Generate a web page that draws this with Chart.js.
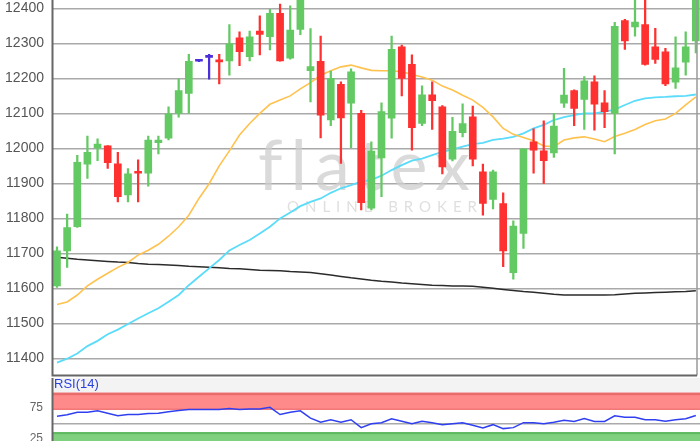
<!DOCTYPE html>
<html>
<head>
<meta charset="utf-8">
<script src="https://cdn.jsdelivr.net/npm/chart.js@4.4.0/dist/chart.umd.min.js"></script>
<style>
  html, body { margin: 0; padding: 0; background: #fff; overflow: hidden; }
  .box { position: absolute; left: 0; width: 700px; }
</style>
</head>
<body>
<div class="box" style="top:0;height:378px"><canvas id="main"></canvas></div>
<div class="box" style="top:378px;height:78px"><canvas id="rsi"></canvas></div>
<script>
// daily candles, oldest first
const opens  = [11607,11707,11776,11955,12001,12007,11956,11867,11934,11929,12016,12029,12100,12157,12249,12260,
                12252,12250,12316,12262,12335,12319,12386,12258,12340,12222,12249,12081,12183,12129,12100,11829,
                11973,12086,12290,12240,12071,12153,12119,11969,12045,12090,11933,11854,11842,11645,11757,12019,
                11993,11987,12129,12165,12140,12190,12130,12100,12365,12347,12354,12290,12276,12189,12246,12307];
const highs  = [11719,11812,11980,12035,12027,12008,11989,11942,11967,12035,12035,12119,12198,12269,12250,12269,
                12269,12354,12333,12335,12379,12397,12412,12407,12460,12342,12321,12221,12190,12227,12109,12019,
                12130,12321,12295,12267,12179,12190,12122,12089,12127,12121,11955,11938,11873,11793,12000,12056,
                12079,12100,12229,12167,12205,12207,12165,12360,12369,12440,12430,12343,12286,12319,12333,12460];
const lows   = [11603,11660,11774,11914,11965,11943,11847,11847,11847,11892,11984,12024,12089,12100,12248,12198,
                12184,12209,12236,12250,12267,12281,12249,12255,12325,12133,12030,12065,11957,12002,11824,11824,
                11862,12029,12150,11995,12065,12054,11927,11964,12033,11950,11809,11827,11662,11626,11714,11929,
                11900,11974,12117,12065,12054,12052,12059,11984,12283,12321,12238,12243,12179,12171,12209,12273];
const closes = [11707,11774,11960,11989,12012,11959,11862,11927,11929,12024,12024,12099,12165,12249,12249,12260,
                12247,12299,12276,12319,12326,12386,12250,12338,12445,12234,12095,12200,12087,12219,11845,11992,
                12105,12283,12200,12059,12153,12136,11947,12049,12071,11969,11843,11933,11707,11778,11998,11995,
                11965,12064,12152,12114,12193,12126,12105,12349,12307,12361,12240,12254,12184,12230,12290,12445];

const sma20  = [11554,11561,11581,11607,11626,11643,11660,11674,11695,11709,11726,11749,11776,11809,11857,11899,
                11950,11993,12038,12071,12100,12126,12138,12150,12170,12188,12209,12222,12233,12238,12230,12223,
                12222,12222,12219,12211,12204,12195,12178,12167,12152,12138,12117,12090,12057,12040,12031,12022,
                12007,12005,12024,12030,12033,12027,12019,12034,12043,12054,12068,12079,12084,12100,12124,12147];
const sma50  = [11388,11399,11414,11435,11450,11469,11482,11498,11514,11529,11543,11562,11581,11609,11633,11657,
                11681,11708,11724,11738,11757,11776,11800,11817,11835,11847,11857,11873,11886,11895,11905,11910,
                11922,11938,11952,11965,11971,11981,11990,11997,12005,12012,12016,12024,12028,12033,12043,12057,
                12067,12081,12089,12095,12100,12100,12105,12111,12124,12136,12143,12146,12147,12149,12150,12154];
const sma200 = [11689,11686,11683,11681,11679,11677,11675,11674,11671,11669,11668,11667,11665,11663,11662,11660,
                11659,11657,11656,11654,11652,11651,11650,11648,11647,11645,11642,11638,11634,11630,11627,11623,
                11620,11618,11615,11613,11611,11609,11608,11607,11607,11606,11603,11600,11597,11594,11591,11589,
                11586,11583,11581,11581,11581,11581,11581,11582,11584,11586,11587,11588,11589,11590,11591,11593];
const rsi14  = [61.9,64.1,68.3,68.3,70.5,66.7,62.5,64.6,64.6,66.2,66.7,68.9,71.0,72.6,72.6,72.6,
                72.6,74.2,72.6,73.7,73.7,76.3,64.6,68.3,70.5,58.7,52.2,56.1,52.2,56.1,43.3,49.7,
                51.3,57.7,53.8,49.7,53.8,51.3,48.1,49.7,51.3,47.0,42.6,48.1,41.7,43.3,51.3,51.3,
                49.7,52.2,55.4,53.4,58.2,53.4,53.4,62.5,60.3,60.3,56.1,56.1,53.8,56.1,57.7,63.0];

const priceTicks = [11400,11500,11600,11700,11800,11900,12000,12100,12200,12300,12400];
const rsiTicks = [25, 50, 75];
const rsiOverbought = 72;
const rsiOversold = 36;

const GREEN = '#63c963', RED = '#ff3030', BLUE = '#4b2fd8';
const FONT = 'Liberation Sans';
const idx = opens.map((_, i) => i);
const candleColor = idx.map(i => closes[i] > opens[i] ? GREEN : (closes[i] < opens[i] ? RED : BLUE));
const xAxis = () => ({ type: 'linear', min: -0.394, max: 63.41, offset: false, display: false });

// y axis: fixed width, no extra padding for the outer labels
const fitAxis = s => { s.width = 53; s.paddingTop = 0; s.paddingBottom = 0; };

const watermark = {
  id: 'watermark',
  beforeDatasetsDraw(chart) {
    const ctx = chart.ctx;
    ctx.save();
    ctx.fillStyle = 'rgba(205,205,205,0.75)';
    ctx.textAlign = 'left';
    ctx.textBaseline = 'alphabetic';
    ctx.font = '400 70px Lato';
    let w = ctx.measureText('flatex').width;
    ctx.letterSpacing = Math.max(0, (212 - w) / 5) + 'px';
    ctx.fillText('flatex', 258, 190);
    ctx.fillStyle = 'rgba(215,215,215,0.8)';
    ctx.font = '400 15px Lato';
    ctx.letterSpacing = '0px';
    w = ctx.measureText('ONLINE BROKER').width;
    ctx.letterSpacing = Math.max(0, (190 - w) / 12) + 'px';
    ctx.fillText('ONLINE BROKER', 287, 212);
    ctx.restore();
  }
};

const frame = {
  id: 'frame',
  afterDraw(chart) {
    const { ctx, chartArea: a } = chart;
    ctx.save();
    ctx.strokeStyle = '#9a9a9a';
    ctx.lineWidth = 1.5;
    ctx.beginPath();
    ctx.moveTo(697, a.top); ctx.lineTo(697, a.bottom);
    ctx.stroke();
    ctx.strokeStyle = '#666';
    ctx.lineWidth = 2;
    ctx.beginPath();
    ctx.moveTo(a.left - 0.5, a.top); ctx.lineTo(a.left - 0.5, a.bottom);
    ctx.lineTo(697, a.bottom);
    ctx.stroke();
    ctx.restore();
  }
};

new Chart(document.getElementById('main'), {
  type: 'bar',
  data: {
    datasets: [
      {
        label: 'Body',
        data: idx.map(i => ({ x: i, y: [opens[i], closes[i]] })),
        backgroundColor: candleColor,
        barThickness: 7,
        minBarLength: 2,
        grouped: false,
        order: 0
      },
      {
        label: 'Wick',
        data: idx.map(i => ({ x: i, y: [lows[i], highs[i]] })),
        backgroundColor: candleColor,
        barThickness: 1.6,
        grouped: false,
        order: 1
      },
      {
        type: 'line', label: 'SMA 20',
        data: idx.map(i => ({ x: i, y: sma20[i] })),
        borderColor: '#ffc24f', borderWidth: 1.6, pointRadius: 0, order: 2
      },
      {
        type: 'line', label: 'SMA 50',
        data: idx.map(i => ({ x: i, y: sma50[i] })),
        borderColor: '#5adcfa', borderWidth: 1.8, pointRadius: 0, order: 2
      },
      {
        type: 'line', label: 'SMA 200',
        data: idx.map(i => ({ x: i, y: sma200[i] })),
        borderColor: '#2b2b2b', borderWidth: 1.5, pointRadius: 0, order: 2
      }
    ]
  },
  options: {
    responsive: true,
    maintainAspectRatio: false,
    animation: false,
    layout: { padding: { top: 0, right: 0, bottom: 2.5, left: 0 } },
    plugins: { legend: { display: false }, tooltip: { enabled: false } },
    scales: {
      x: xAxis(),
      y: {
        min: 11351, max: 12424,
        afterBuildTicks: s => { s.ticks = priceTicks.map(v => ({ value: v })); },
        afterFit: fitAxis,
        grid: { color: '#a9a9a9', lineWidth: 1.5, drawTicks: false },
        border: { display: false },
        ticks: { padding: 9, color: '#555', font: { family: FONT, size: 14 }, callback: v => String(v) }
      }
    }
  },
  plugins: [watermark, frame]
});

const rsiBands = {
  id: 'rsiBands',
  beforeDatasetsDraw(chart) {
    const { ctx, chartArea: a, scales: { y } } = chart;
    ctx.save();
    ctx.fillStyle = '#f3f3f3';
    ctx.fillRect(a.left, 0, 700 - a.left, a.top);
    const yHi = y.getPixelForValue(rsiOverbought), yLo = y.getPixelForValue(rsiOversold);
    ctx.fillStyle = '#ff8a8a';
    ctx.fillRect(a.left, a.top, a.right - a.left, yHi - a.top);
    ctx.fillStyle = '#e86c6c';
    ctx.fillRect(a.left, a.top, a.right - a.left, 2.5);
    ctx.fillStyle = '#f27878';
    ctx.fillRect(a.left, yHi - 1.5, a.right - a.left, 1.5);
    ctx.fillStyle = '#7fd07f';
    ctx.fillRect(a.left, yLo, a.right - a.left, a.bottom - yLo);
    ctx.fillStyle = '#5fba5f';
    ctx.fillRect(a.left, yLo, a.right - a.left, 2);
    ctx.fillStyle = '#2a3fe0';
    ctx.font = '13px ' + FONT;
    ctx.textBaseline = 'middle';
    ctx.fillText('RSI(14)', a.left + 1, 6.5);
    ctx.strokeStyle = '#666';
    ctx.lineWidth = 2;
    ctx.beginPath();
    ctx.moveTo(a.left - 0.5, 0); ctx.lineTo(a.left - 0.5, a.bottom);
    ctx.stroke();
    ctx.restore();
  }
};

new Chart(document.getElementById('rsi'), {
  type: 'line',
  data: {
    datasets: [{
      label: 'RSI(14)',
      data: idx.map(i => ({ x: i, y: rsi14[i] })),
      borderColor: '#3040f0', borderWidth: 1.5, pointRadius: 0
    }]
  },
  options: {
    responsive: true,
    maintainAspectRatio: false,
    animation: false,
    layout: { padding: { top: 14.7, right: 0, bottom: 1.7, left: 0 } },
    plugins: { legend: { display: false }, tooltip: { enabled: false } },
    scales: {
      x: xAxis(),
      y: {
        min: 0, max: 100,
        afterBuildTicks: s => { s.ticks = rsiTicks.map(v => ({ value: v })); },
        afterFit: fitAxis,
        grid: { color: c => c.tick && c.tick.value === 50 ? '#aaa' : 'rgba(0,0,0,0)', lineWidth: 1.5, drawTicks: false },
        border: { display: false },
        ticks: {
          padding: 10, color: '#666', font: { family: FONT, size: 12 },
          callback: v => (v === 50 ? '' : String(v))
        }
      }
    }
  },
  plugins: [rsiBands]
});
</script>
</body>
</html>
